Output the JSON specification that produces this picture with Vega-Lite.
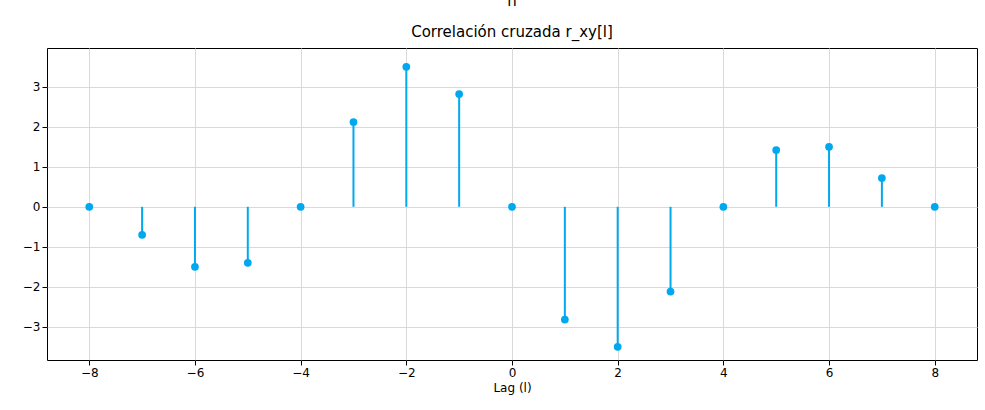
{
  "$schema": "https://vega.github.io/schema/vega-lite/v6.json",
  "width": 930,
  "height": 312,
  "autosize": {"type": "none"},
  "padding": {"left": 47, "top": 48, "right": 8, "bottom": 50},
  "background": "white",
  "title": {
    "text": ["n", "Correlación cruzada r_xy[l]"],
    "lineHeight": 31,
    "fontSize": 15,
    "fontWeight": "normal",
    "font": "DejaVu Sans",
    "color": "black",
    "offset": 8
  },
  "data": {
    "values": [
      {"lag": -8, "r": 0}, {"lag": -7, "r": -0.7}, {"lag": -6, "r": -1.5},
      {"lag": -5, "r": -1.4}, {"lag": -4, "r": 0}, {"lag": -3, "r": 2.12},
      {"lag": -2, "r": 3.5}, {"lag": -1, "r": 2.82}, {"lag": 0, "r": 0},
      {"lag": 1, "r": -2.82}, {"lag": 2, "r": -3.5}, {"lag": 3, "r": -2.12},
      {"lag": 4, "r": 0}, {"lag": 5, "r": 1.42}, {"lag": 6, "r": 1.5},
      {"lag": 7, "r": 0.72}, {"lag": 8, "r": 0}
    ]
  },
  "encoding": {
    "x": {
      "field": "lag", "type": "quantitative", "title": "Lag (l)",
      "scale": {"domain": [-8.8, 8.8], "nice": false, "zero": false},
      "axis": {"values": [-8, -6, -4, -2, 0, 2, 4, 6, 8], "format": "d"}
    },
    "y": {
      "field": "r", "type": "quantitative", "title": "r[l]",
      "scale": {"domain": [-3.83, 3.97], "nice": false},
      "axis": {"values": [-3, -2, -1, 0, 1, 2, 3], "titlePadding": 24}
    }
  },
  "layer": [
    {
      "mark": {"type": "rule", "color": "#00a8f0", "strokeWidth": 2},
      "encoding": {"y2": {"datum": 0}}
    },
    {
      "mark": {"type": "point", "filled": true, "color": "#00a8f0", "size": 60, "opacity": 1}
    }
  ],
  "config": {
    "font": "DejaVu Sans",
    "view": {"stroke": "black", "strokeWidth": 1},
    "axis": {
      "gridColor": "#d9d9d9", "gridOpacity": 1, "domain": false,
      "tickColor": "black", "labelColor": "black", "labelFontSize": 12,
      "titleFontSize": 12, "titleFontWeight": "normal", "titleColor": "black",
      "labelFont": "DejaVu Sans", "titleFont": "DejaVu Sans"
    }
  }
}
